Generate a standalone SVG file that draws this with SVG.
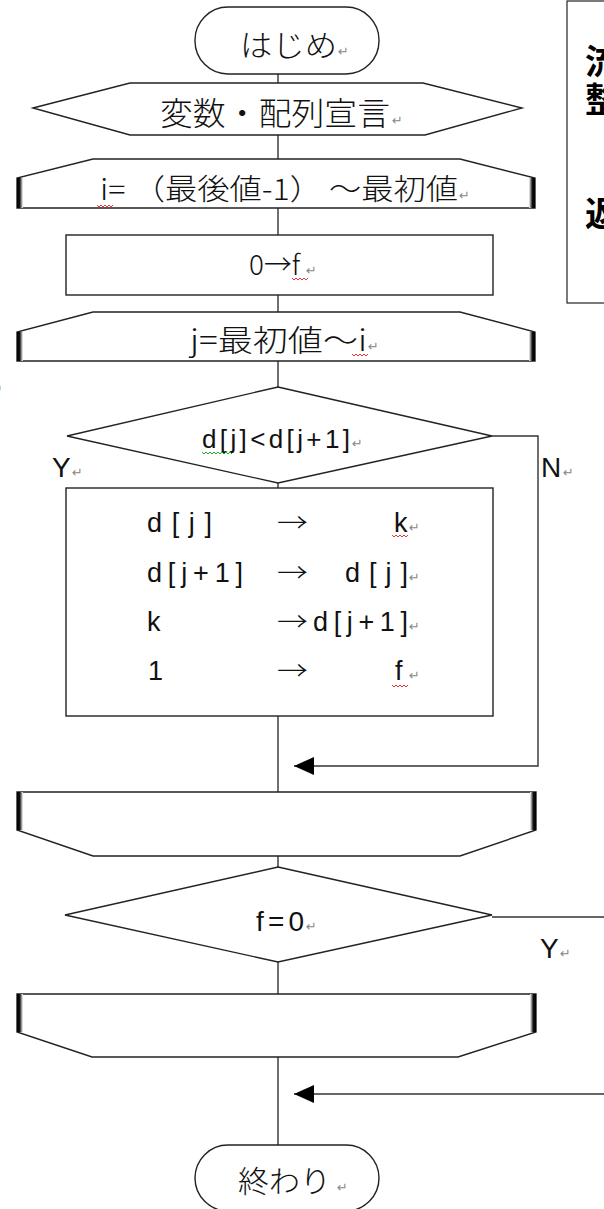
<svg xmlns="http://www.w3.org/2000/svg" width="604" height="1209" viewBox="0 0 604 1209">
<style>
.sh{fill:#fff;stroke:#222;stroke-width:1.4}
.ln{fill:none;stroke:#333;stroke-width:1.4}
.t{font-family:"Noto Sans CJK JP","Noto Sans",sans-serif;font-weight:300;fill:#111}
.l{font-family:"Liberation Sans","Noto Sans CJK JP",sans-serif;fill:#111}
.rm{font-family:"DejaVu Sans",sans-serif;font-size:13px;fill:#888}
.sqr{fill:none;stroke:#e33;stroke-width:1}
.sqg{fill:none;stroke:#2a2;stroke-width:1}
.nt{font-family:"Noto Sans CJK JP",sans-serif;font-weight:bold;font-size:34px;fill:#000}
</style>
<defs>
<linearGradient id="gl" x1="0" x2="1" y1="0" y2="0"><stop offset="0" stop-color="#000"/><stop offset="0.45" stop-color="#111"/><stop offset="1" stop-color="#fff"/></linearGradient>
<linearGradient id="gr" x1="0" x2="1" y1="0" y2="0"><stop offset="0" stop-color="#fff"/><stop offset="0.55" stop-color="#111"/><stop offset="1" stop-color="#000"/></linearGradient>
<marker id="ah" markerUnits="userSpaceOnUse" markerWidth="20" markerHeight="20" viewBox="0 0 20 20" refX="20" refY="10" orient="auto"><path d="M0,1 L20,10 L0,19 Z" fill="#000"/></marker>
</defs>
<rect width="604" height="1209" fill="#fff"/>

<g id="connectors">
<path class="ln" d="M278,74 V83"/>
<path class="ln" d="M278,135 V159"/>
<path class="ln" d="M278,208 V235"/>
<path class="ln" d="M278,295 V312"/>
<path class="ln" d="M278,361 V387"/>
<path class="ln" d="M278,483 V488"/>
<path class="ln" d="M278,716 V792"/>
<path class="ln" d="M278,856 V867"/>
<path class="ln" d="M278,962 V994"/>
<path class="ln" d="M278,1057 V1145"/>
<path class="ln" d="M492,436 H538 V766 H294" marker-end="url(#ah)"/>
<path class="ln" d="M492,917 H606"/>
<path class="ln" d="M606,1094 H294" marker-end="url(#ah)"/>
<text class="l" x="52" y="477" font-size="28">Y</text><text class="rm" x="72" y="477">↵</text>
<text class="l" x="541" y="477" font-size="28">N</text><text class="rm" x="563" y="477">↵</text>
<text class="l" x="540" y="958" font-size="28">Y</text><text class="rm" x="560" y="958">↵</text>
<text class="rm" x="-8" y="394">↵</text>
</g>

<g id="start">
<rect class="sh" x="195" y="7" width="184" height="67" rx="33" ry="33"/>
<text class="t" x="240" y="56" font-size="30" textLength="97" lengthAdjust="spacingAndGlyphs">はじめ</text>
<text class="rm" x="338" y="56">↵</text>
</g>

<g id="declare">
<polygon class="sh" points="33,108 130,83 423,83 522,108 425,135 130,135"/>
<text class="t" x="160" y="125" font-size="32" textLength="230" lengthAdjust="spacingAndGlyphs">変数・配列宣言</text>
<text class="rm" x="392" y="125">↵</text>
</g>

<g id="loop1">
<polygon class="sh" points="17,208 17,178 93,159 460,159 535,178 535,208"/>
<rect x="17" y="178" width="6" height="30" fill="url(#gl)"/>
<rect x="529" y="178" width="6" height="30" fill="url(#gr)"/>
<text class="t" x="100" y="200" font-size="29" textLength="358" lengthAdjust="spacingAndGlyphs">i= （最後値-1） ～最初値</text>
<text class="rm" x="459" y="200">↵</text>
<path class="sqr" d="M97,205 l2,2 l2,-2 l2,2 l2,-2 l2,2 l2,-2 l2,2 l2,-2"/>
</g>

<g id="init">
<rect class="sh" x="66" y="235" width="427" height="60"/>
<text class="t" x="249" y="275" font-size="28" textLength="51" lengthAdjust="spacingAndGlyphs">0→f</text>
<text class="rm" x="306" y="275">↵</text>
<path class="sqr" d="M292,278 l2,2 l2,-2 l2,2 l2,-2 l2,2 l2,-2 l2,2 l2,-2"/>
</g>

<g id="loop2">
<polygon class="sh" points="17,361 17,332 93,312 460,312 535,332 535,361"/>
<rect x="17" y="332" width="6" height="29" fill="url(#gl)"/>
<rect x="529" y="332" width="6" height="29" fill="url(#gr)"/>
<text class="t" x="190" y="351" font-size="30" textLength="177" lengthAdjust="spacingAndGlyphs">j=最初値～i</text>
<text class="rm" x="368" y="351">↵</text>
<path class="sqr" d="M352,354 l2,2 l2,-2 l2,2 l2,-2 l2,2 l2,-2 l2,2 l2,-2"/>
</g>

<g id="cmp">
<polygon class="sh" points="278,387 492,436 278,483 67,436"/>
<text class="l" x="202" y="448" font-size="26" textLength="148" lengthAdjust="spacing">d[j]&lt;d[j+1]</text>
<text class="rm" x="352" y="448">↵</text>
<path class="sqg" d="M202,452 l2,2 l2,-2 l2,2 l2,-2 l2,2 l2,-2 l2,2 l2,-2 l2,2 l2,-2 l2,2 l2,-2 l2,2 l2,-2 l2,2"/>
</g>

<g id="swap">
<rect class="sh" x="66" y="488" width="427" height="228"/>
<text class="l" x="147" y="532" font-size="27" textLength="65" lengthAdjust="spacing">d[j]</text>
<text class="t" x="277" y="532" font-size="26" textLength="31" lengthAdjust="spacingAndGlyphs">→</text>
<text class="l" x="394" y="532" font-size="27">k</text>
<text class="rm" x="409" y="532">↵</text>
<path class="sqr" d="M392,535 l2,2 l2,-2 l2,2 l2,-2 l2,2 l2,-2 l2,2 l2,-2"/>

<text class="l" x="147" y="582" font-size="27" textLength="96" lengthAdjust="spacing">d[j+1]</text>
<text class="t" x="277" y="582" font-size="26" textLength="31" lengthAdjust="spacingAndGlyphs">→</text>
<text class="l" x="345" y="582" font-size="27" textLength="63" lengthAdjust="spacing">d[j]</text>
<text class="rm" x="409" y="582">↵</text>

<text class="l" x="147" y="631" font-size="27">k</text>
<text class="t" x="277" y="631" font-size="26" textLength="31" lengthAdjust="spacingAndGlyphs">→</text>
<text class="l" x="313" y="631" font-size="27" textLength="95" lengthAdjust="spacing">d[j+1]</text>
<text class="rm" x="409" y="631">↵</text>

<text class="l" x="148" y="680" font-size="27">1</text>
<text class="t" x="277" y="680" font-size="26" textLength="31" lengthAdjust="spacingAndGlyphs">→</text>
<text class="l" x="395" y="680" font-size="27">f</text>
<text class="rm" x="409" y="680">↵</text>
<path class="sqr" d="M392,685 l2,2 l2,-2 l2,2 l2,-2 l2,2 l2,-2 l2,2 l2,-2"/>
</g>

<g id="loopend2">
<polygon class="sh" points="17,792 536,792 536,830 460,856 93,856 17,830"/>
<rect x="17" y="792" width="6" height="38" fill="url(#gl)"/>
<rect x="530" y="792" width="6" height="38" fill="url(#gr)"/>
</g>

<g id="check">
<polygon class="sh" points="278,867 492,915 278,962 65,915"/>
<text class="l" x="256" y="931" font-size="28" textLength="48" lengthAdjust="spacing">f=0</text>
<text class="rm" x="306" y="931">↵</text>
</g>

<g id="loopend1">
<polygon class="sh" points="17,994 536,994 536,1032 458,1057 92,1057 17,1032"/>
<rect x="17" y="994" width="6" height="38" fill="url(#gl)"/>
<rect x="530" y="994" width="6" height="38" fill="url(#gr)"/>
</g>

<g id="end">
<rect class="sh" x="195" y="1145" width="184" height="66" rx="33" ry="33"/>
<text class="t" x="238" y="1192" font-size="30" textLength="93" lengthAdjust="spacingAndGlyphs">終わり</text>
<text class="rm" x="337" y="1192">↵</text>
</g>

<g id="note">
<rect x="567" y="1" width="60" height="302" fill="#fff" stroke="#222" stroke-width="1.2"/>
<text class="nt" x="585" y="74">流</text>
<text class="nt" x="585" y="112">整</text>
<text class="nt" x="585" y="226">返</text>
</g>
</svg>
